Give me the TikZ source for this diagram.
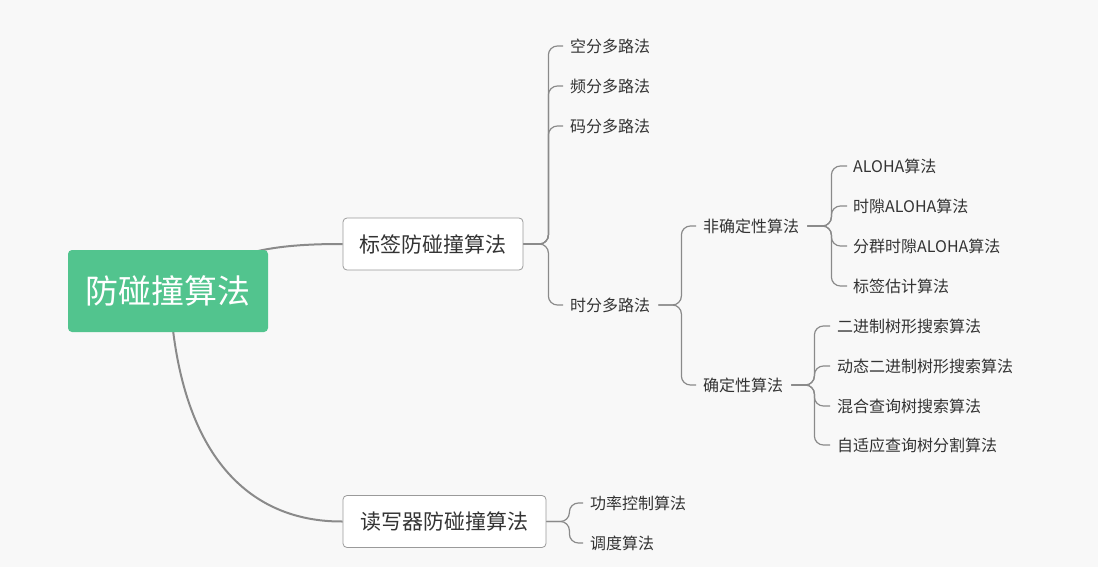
\documentclass[tikz,border=0pt]{standalone}
\usepackage{fontspec}
\setmainfont{Noto Sans CJK SC}
\definecolor{bg}{HTML}{F8F8F8}
\definecolor{rootgreen}{HTML}{52C48E}
\definecolor{txt}{HTML}{333333}
\definecolor{conn}{HTML}{8A8A8A}
\definecolor{boxline}{HTML}{9A9A9A}
\begin{document}
\begin{tikzpicture}[x=1pt,y=-1pt,
  rootnode/.style={fill=rootgreen,rounded corners=4pt,minimum width=200pt,minimum height=82pt,text=white,font=\fontsize{33}{36}\selectfont,inner sep=0pt},
  mainnode/.style={fill=white,draw=boxline,line width=0.8pt,rounded corners=4pt,minimum height=52pt,text=txt,font=\fontsize{21}{24}\selectfont,inner sep=0pt},
  leaf/.style={anchor=west,inner sep=0pt,text=txt,font=\fontsize{16}{18}\selectfont},
  bigconn/.style={draw=conn,line width=2pt},
  brconn/.style={draw=conn,line width=1.2pt,rounded corners=9pt}]
\useasboundingbox (0,0) rectangle (1098,567);
\fill[bg] (0,0) rectangle (1098,567);

\node[mainnode,minimum width=180pt] (tag) at (433,244) {标签防碰撞算法};
\node[mainnode,minimum width=203pt] (reader) at (444.5,521.5) {读写器防碰撞算法};

\draw[bigconn] (258,251) .. controls (285,245) and (315,244) .. (tag.west);
\draw[bigconn] (173,330) .. controls (190,470) and (260,522) .. (reader.west);
\node[rootnode] (root) at (168,291) {防碰撞算法};

% tag children
\node[leaf] (sdma) at (570,46) {空分多路法};
\node[leaf] (fdma) at (570,86) {频分多路法};
\node[leaf] (cdma) at (570,126) {码分多路法};
\node[leaf] (tdma) at (570,305) {时分多路法};
\foreach \c in {sdma,fdma,cdma,tdma}
  \draw[brconn] (tag.east) -- ([xshift=25pt]tag.east) |- ([xshift=-7pt]\c.west);

\node[leaf] (nondet) at (703,226) {非确定性算法};
\node[leaf] (det) at (703,385) {确定性算法};
\foreach \c in {nondet,det}
  \draw[brconn] ([xshift=8pt]tdma.east) -- ([xshift=31pt]tdma.east) |- ([xshift=-7pt]\c.west);

\node[leaf] (a1) at (853,166) {ALOHA算法};
\node[leaf] (a2) at (853,206) {时隙ALOHA算法};
\node[leaf] (a3) at (853,246) {分群时隙ALOHA算法};
\node[leaf] (a4) at (853,286) {标签估计算法};
\foreach \c in {a1,a2,a3,a4}
  \draw[brconn] ([xshift=8pt]nondet.east) -- ([xshift=32pt]nondet.east) |- ([xshift=-6pt]\c.west);

\node[leaf] (b1) at (837,326) {二进制树形搜索算法};
\node[leaf] (b2) at (837,366) {动态二进制树形搜索算法};
\node[leaf] (b3) at (837,406) {混合查询树搜索算法};
\node[leaf] (b4) at (837,445) {自适应查询树分割算法};
\foreach \c in {b1,b2,b3,b4}
  \draw[brconn] ([xshift=8pt]det.east) -- ([xshift=31pt]det.east) |- ([xshift=-7pt]\c.west);

\node[leaf] (r1) at (590,503) {功率控制算法};
\node[leaf] (r2) at (590,543) {调度算法};
\foreach \c in {r1,r2}
  \draw[brconn] (reader.east) -- ([xshift=23pt]reader.east) |- ([xshift=-7pt]\c.west);
\end{tikzpicture}
\end{document}
